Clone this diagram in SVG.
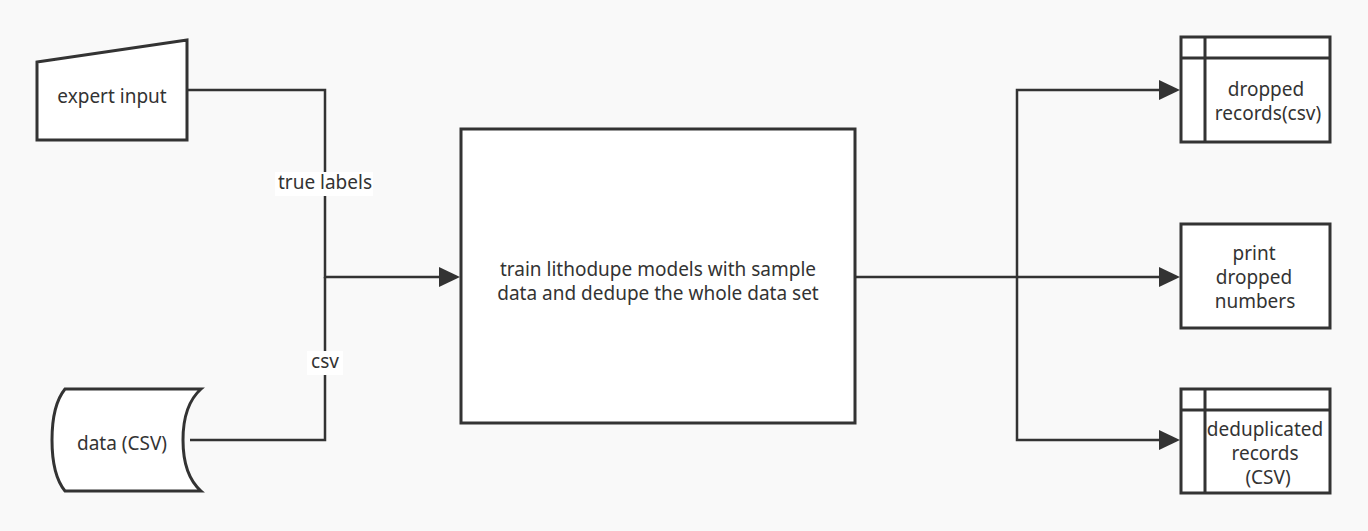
<svg xmlns="http://www.w3.org/2000/svg" width="1368" height="531" viewBox="0 0 1368 531">
<style>
.n{fill:#ffffff;stroke:#333333;stroke-width:3}
.c{fill:none;stroke:#333333;stroke-width:2.5}
.h{fill:#333333}
text{font-family:"Noto Sans","Liberation Sans",sans-serif;font-size:19px;fill:#333333;text-anchor:middle}
.lb{fill:#ffffff}
</style>
<rect width="1368" height="531" fill="#f9f9f9"/>
<g id="connectors">
<path class="c" d="M188,90 H325 V277 H440"/>
<path class="h" d="M439,267 L460,277 L439,287 Z"/>
<path class="c" d="M190,440 H325 V277"/>
<path class="c" d="M855,277 H1160"/>
<path class="h" d="M1159,267 L1180,277 L1159,287 Z"/>
<path class="c" d="M1017,277 V90 H1160"/>
<path class="h" d="M1159,80 L1180,90 L1159,100 Z"/>
<path class="c" d="M1017,277 V440 H1160"/>
<path class="h" d="M1159,430 L1180,440 L1159,450 Z"/>
<rect class="lb" x="275" y="172" width="98" height="24"/>
<text x="325" y="189">true labels</text>
<rect class="lb" x="307" y="351" width="36" height="24"/>
<text x="325" y="368">csv</text>
</g>
<g id="expert">
<path class="n" d="M37,62 L187,40 V140 H37 Z"/>
<text x="112" y="103">expert input</text>
</g>
<g id="data">
<path class="n" d="M65,389 H201 Q183,405 183,440 Q183,475 201,491 H65 Q52,475 52,440 Q52,405 65,389 Z"/>
<text x="122" y="450">data (CSV)</text>
</g>
<g id="train">
<rect class="n" x="461" y="129" width="394" height="294"/>
<text x="658" y="276">train lithodupe models with sample</text>
<text x="658" y="300">data and dedupe the whole data set</text>
</g>
<g id="dropped">
<rect class="n" x="1181" y="37" width="149" height="105"/>
<path class="n" d="M1181,58 H1330 M1205,37 V142"/>
<text x="1266" y="96">dropped</text>
<text x="1268" y="120">records(csv)</text>
</g>
<g id="print">
<rect class="n" x="1181" y="224" width="149" height="104"/>
<text x="1254" y="260">print</text>
<text x="1254" y="284">dropped</text>
<text x="1255" y="308">numbers</text>
</g>
<g id="dedup">
<rect class="n" x="1181" y="389" width="149" height="104"/>
<path class="n" d="M1181,410 H1330 M1205,389 V493"/>
<text x="1265" y="436">deduplicated</text>
<text x="1265" y="460">records</text>
<text x="1268" y="484">(CSV)</text>
</g>
</svg>
